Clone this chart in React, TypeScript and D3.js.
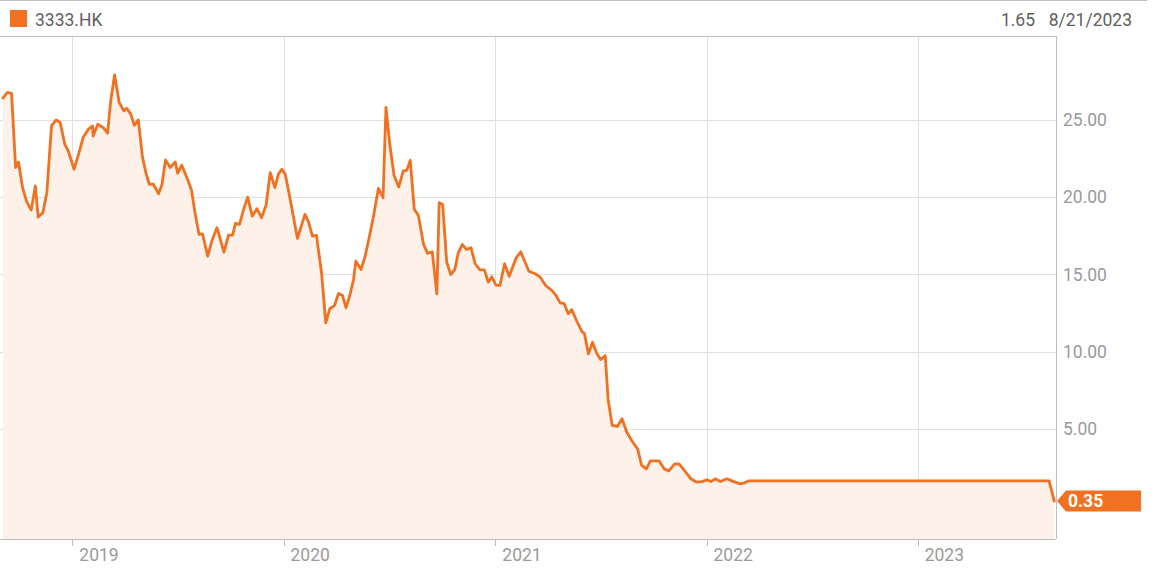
import React from "react";
import * as d3 from "d3";

const ticker = "3333.HK";
const headerValue = "1.65";
const headerDate = "8/21/2023";
const lastLabel = "0.35";

const dates = [
  "2018-09-03","2018-09-11","2018-09-18","2018-09-25","2018-09-30","2018-10-07","2018-10-14","2018-10-22","2018-10-29","2018-11-03",
  "2018-11-11","2018-11-18","2018-11-26","2018-12-04","2018-12-11","2018-12-19","2018-12-25","2019-01-04","2019-01-11","2019-01-20",
  "2019-01-29","2019-02-05","2019-02-06","2019-02-14","2019-02-23","2019-03-03","2019-03-08","2019-03-15","2019-03-23","2019-03-31",
  "2019-04-05","2019-04-12","2019-04-18","2019-04-25","2019-05-02","2019-05-08","2019-05-14","2019-05-21","2019-05-30","2019-06-05",
  "2019-06-11","2019-06-19","2019-06-28","2019-07-02","2019-07-09","2019-07-18","2019-07-26","2019-08-01","2019-08-08","2019-08-14",
  "2019-08-23","2019-08-30","2019-09-08","2019-09-13","2019-09-20","2019-09-28","2019-10-05","2019-10-10","2019-10-17","2019-10-24",
  "2019-10-31","2019-11-08","2019-11-16","2019-11-24","2019-12-02","2019-12-09","2019-12-17","2019-12-23","2019-12-29","2020-01-04",
  "2020-01-12","2020-01-25","2020-02-07","2020-02-13","2020-02-20","2020-02-27","2020-03-07","2020-03-14","2020-03-21","2020-03-29",
  "2020-04-05","2020-04-12","2020-04-18","2020-04-25","2020-05-01","2020-05-05","2020-05-14","2020-05-21","2020-05-28","2020-06-04",
  "2020-06-13","2020-06-21","2020-06-26","2020-07-03","2020-07-10","2020-07-18","2020-07-26","2020-08-01","2020-08-07","2020-08-14",
  "2020-08-21","2020-08-30","2020-09-06","2020-09-14","2020-09-22","2020-09-26","2020-10-02","2020-10-09","2020-10-16","2020-10-23",
  "2020-10-29","2020-11-05","2020-11-12","2020-11-20","2020-11-27","2020-12-05","2020-12-13","2020-12-20","2020-12-26","2021-01-02",
  "2021-01-09","2021-01-17","2021-01-25","2021-02-06","2021-02-14","2021-02-28","2021-03-11","2021-03-19","2021-03-29","2021-04-09",
  "2021-04-16","2021-04-23","2021-04-30","2021-05-07","2021-05-13","2021-05-22","2021-05-31","2021-06-04","2021-06-11","2021-06-18",
  "2021-06-25","2021-07-02","2021-07-10","2021-07-15","2021-07-22","2021-07-31","2021-08-08","2021-08-16","2021-08-25","2021-09-04",
  "2021-09-11","2021-09-19","2021-09-26","2021-10-11","2021-10-20","2021-10-28","2021-11-07","2021-11-15","2021-11-23","2021-12-05",
  "2021-12-15","2021-12-24","2022-01-02","2022-01-09","2022-01-16","2022-01-25","2022-02-05","2022-02-17","2022-02-28","2022-03-06",
  "2022-03-15","2023-08-16","2023-08-25"
];

const prices = [
  26.38,26.75,26.69,21.90,22.26,20.60,19.70,19.15,20.71,18.70,
  18.98,20.28,24.59,24.98,24.81,23.40,22.97,21.79,22.65,23.88,
  24.38,24.59,23.94,24.70,24.49,24.12,26.10,27.89,26.10,25.56,
  25.73,25.35,24.63,24.98,22.65,21.57,20.82,20.82,20.21,20.82,
  22.39,21.90,22.26,21.53,22.05,21.25,20.43,18.98,17.58,17.62,
  16.17,17.15,18.01,17.37,16.43,17.53,17.53,18.29,18.23,19.20,
  19.99,18.76,19.24,18.66,19.50,21.57,20.60,21.46,21.79,21.46,
  19.95,17.32,18.87,18.40,17.47,17.51,14.99,11.86,12.79,12.98,
  13.76,13.63,12.83,13.70,14.67,15.85,15.31,16.17,17.37,18.66,
  20.56,19.95,25.78,23.29,21.40,20.64,21.68,21.72,22.37,19.20,
  18.81,16.93,16.36,16.46,13.74,19.63,19.52,15.79,14.99,15.31,
  16.39,16.93,16.61,16.72,15.70,15.31,15.29,14.49,14.84,14.30,
  14.28,15.69,14.88,16.07,16.46,15.20,15.04,14.84,14.28,13.95,
  13.63,13.16,13.11,12.45,12.72,11.97,11.28,11.17,9.86,10.61,
  9.92,9.49,9.75,6.90,5.24,5.17,5.67,4.81,4.25,3.71,
  2.65,2.43,2.95,2.95,2.43,2.30,2.76,2.74,2.37,1.79,
  1.57,1.61,1.72,1.61,1.79,1.61,1.79,1.61,1.46,1.51,
  1.65,1.65,0.35
];

const yTicks = [5, 10, 15, 20, 25];
const xDomain = ["2018-08-29", "2023-08-28"];
const yDomain = [-2.1, 30.4];

const ORANGE = "#f07122";
const FILL = "#fdf1e9";
const GRID = "#e0e0e0";
const AXIS = "#bdbdbd";
const FONT = "Roboto, 'Noto Sans', sans-serif";

export default function App() {
  const W = 1166, H = 572;
  const left = 0, right = 1056, top = 36, bottom = 539;
  const parse = d3.utcParse("%Y-%m-%d");
  const data = dates.map((d, i) => ({ date: parse(d) as Date, value: prices[i] }));

  const x = d3.scaleUtc().domain(xDomain.map((d) => parse(d) as Date)).range([left, right]);
  const y = d3.scaleLinear().domain(yDomain).range([bottom, top]);

  const line = d3.line<{ date: Date; value: number }>().x((d) => x(d.date)).y((d) => y(d.value));
  const area = d3
    .area<{ date: Date; value: number }>()
    .x((d) => x(d.date))
    .y0(bottom)
    .y1((d) => y(d.value));

  const yearTicks = x.ticks(d3.utcYear.every(1) as any);
  const last = data[data.length - 1];
  const ly = y(last.value);
  const lx = right + 1;

  return (
    <div style={{ position: "fixed", left: 0, top: 0 }}>
      <svg width={W} height={H} style={{ display: "block", fontFamily: FONT }}>
        <rect x={0} y={0} width={W} height={H} fill="#fff" />
        {/* header */}
        <line x1={0} x2={1147} y1={0.5} y2={0.5} stroke={AXIS} />
        <rect x={10} y={10} width={17} height={17} fill={ORANGE} />
        <text x={35} y={25.5} fontSize={17.5} fill="#5f5f5f">{ticker}</text>
        <text x={1035} y={25.5} fontSize={17.5} fill="#5f5f5f" textAnchor="end">{headerValue}</text>
        <text x={1132} y={25.5} fontSize={17.5} fill="#5f5f5f" textAnchor="end">{headerDate}</text>

        {/* grid */}
        {yTicks.map((t) => (
          <line key={"h" + t} x1={left} x2={right} y1={Math.round(y(t)) + 0.5} y2={Math.round(y(t)) + 0.5} stroke={GRID} />
        ))}
        {yearTicks.map((t) => (
          <line key={"v" + t.getTime()} x1={Math.round(x(t)) + 0.5} x2={Math.round(x(t)) + 0.5} y1={top} y2={bottom} stroke={GRID} />
        ))}

        {/* area + line */}
        <path d={area(data) || ""} fill={FILL} />
        <path d={line(data) || ""} fill="none" stroke={ORANGE} strokeWidth={2.8} strokeLinejoin="round" strokeLinecap="round" />

        {/* frame */}
        <line x1={left} x2={right} y1={top + 0.5} y2={top + 0.5} stroke={AXIS} />
        <line x1={right + 0.5} x2={right + 0.5} y1={top} y2={bottom} stroke={AXIS} />
        <line x1={left} x2={right} y1={bottom + 0.5} y2={bottom + 0.5} stroke={AXIS} />

        {/* y labels */}
        {yTicks.map((t) => (
          <text key={"yl" + t} x={1063} y={y(t)} dy="0.36em" fontSize={17.5} fill="#9a9a9a">
            {d3.format(".2f")(t)}
          </text>
        ))}

        {/* x ticks and labels */}
        {yearTicks.map((t) => (
          <g key={"xl" + t.getTime()}>
            <line x1={Math.round(x(t)) + 0.5} x2={Math.round(x(t)) + 0.5} y1={bottom} y2={bottom + 7} stroke={AXIS} />
            <text x={x(t) + 7} y={561} fontSize={17.5} fill="#9a9a9a">
              {d3.utcFormat("%Y")(t)}
            </text>
          </g>
        ))}

        {/* last value label */}
        <path
          d={`M${lx},${ly} L${lx + 9},${ly - 10.5} L${1141},${ly - 10.5} L${1141},${ly + 10.5} L${lx + 9},${ly + 10.5} Z`}
          fill={ORANGE}
        />
        <text x={lx + 11} y={ly} dy="0.36em" fontSize={17.5} fontWeight="bold" fill="#fff">
          {lastLabel}
        </text>
      </svg>
    </div>
  );
}
